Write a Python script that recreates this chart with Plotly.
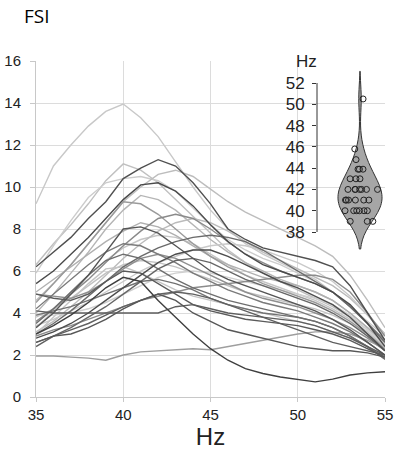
import plotly.graph_objects as go

hz = list(range(35, 56))

# spectra (one list per cell), values read at each integer Hz 35..55
cell_A = [9.2, 11.0, 12.0, 12.9, 13.6, 13.95, 13.3, 12.4, 11.2, 10.0, 8.9, 8.0, 7.3, 6.8, 6.4, 6.0, 5.6, 5.0, 4.3, 3.6, 2.9]
cell_D = [6.3, 7.3, 8.2, 9.2, 10.3, 11.1, 10.8, 10.2, 9.4, 8.6, 7.8, 7.0, 6.4, 5.9, 5.5, 5.1, 4.7, 4.3, 3.8, 3.2, 2.5]
cell_E = [5.9, 7.2, 8.4, 9.5, 10.2, 10.4, 10.5, 10.3, 9.8, 9.0, 8.2, 7.5, 7.0, 6.6, 6.3, 5.9, 5.5, 5.0, 4.3, 3.5, 2.7]
cell_F = [4.6, 5.4, 6.3, 7.3, 8.3, 9.3, 10.0, 10.6, 10.8, 10.5, 9.9, 9.3, 8.8, 8.4, 8.0, 7.6, 7.2, 6.7, 5.8, 4.6, 3.3]
cell_I = [4.0, 4.9, 5.9, 6.9, 8.0, 8.9, 9.6, 9.4, 8.9, 8.2, 7.5, 6.9, 6.4, 6.0, 5.6, 5.3, 5.0, 4.6, 4.0, 3.3, 2.6]
cell_L = [3.3, 4.1, 5.0, 5.8, 6.5, 7.1, 7.5, 7.7, 7.6, 7.3, 6.8, 6.3, 5.8, 5.5, 5.2, 4.9, 4.6, 4.2, 3.7, 3.1, 2.4]
cell_O = [3.1, 3.6, 4.3, 5.0, 5.8, 6.6, 7.3, 7.9, 8.3, 8.5, 8.3, 7.9, 7.4, 6.9, 6.5, 6.1, 5.7, 5.3, 4.7, 3.9, 3.0]
cell_V = [3.8, 4.2, 4.7, 5.3, 5.9, 6.3, 6.5, 6.4, 6.2, 5.9, 5.6, 5.3, 5.0, 4.8, 4.6, 4.4, 4.2, 3.9, 3.5, 3.0, 2.4]
cell_W = [3.4, 3.7, 4.1, 4.5, 5.0, 5.5, 6.0, 6.4, 6.7, 7.0, 7.2, 7.3, 7.2, 7.0, 6.7, 6.4, 6.0, 5.5, 4.8, 3.9, 3.0]
cell_Z = [3.0, 3.8, 4.6, 5.4, 6.1, 6.2, 5.9, 5.5, 5.1, 4.8, 4.6, 4.4, 4.2, 4.0, 3.8, 3.6, 3.4, 3.1, 2.8, 2.4, 1.9]
cell_AB = [5.0, 5.6, 6.2, 6.8, 7.4, 7.9, 8.3, 8.1, 7.7, 7.2, 6.7, 6.3, 6.0, 5.7, 5.5, 5.3, 5.0, 4.6, 4.0, 3.3, 2.5]
cell_AD = [3.9, 3.9, 4.0, 4.2, 4.5, 4.9, 5.3, 5.7, 5.9, 6.0, 5.9, 5.7, 5.5, 5.3, 5.1, 4.9, 4.7, 4.4, 3.9, 3.2, 2.5]
cell_G = [4.5, 5.4, 6.3, 7.3, 8.3, 9.3, 9.2, 8.7, 8.0, 7.3, 6.7, 6.2, 5.8, 5.4, 5.1, 4.8, 4.5, 4.1, 3.6, 3.0, 2.3]
cell_J = [3.6, 4.2, 4.9, 5.6, 6.4, 7.2, 7.9, 8.5, 8.7, 8.5, 8.0, 7.4, 6.8, 6.4, 6.0, 5.7, 5.4, 5.0, 4.3, 3.5, 2.7]
cell_N = [4.9, 4.8, 4.7, 5.0, 5.5, 6.1, 6.6, 6.8, 6.6, 6.2, 5.8, 5.4, 5.0, 4.7, 4.5, 4.3, 4.0, 3.7, 3.3, 2.8, 2.2]
cell_R = [1.95, 1.95, 1.9, 1.85, 1.75, 2.0, 2.15, 2.2, 2.28, 2.3, 2.25, 2.4, 2.55, 2.7, 2.85, 3.0, 3.1, 3.1, 3.0, 2.7, 2.3]
cell_X = [2.9, 3.2, 3.4, 3.7, 4.0, 4.3, 4.6, 4.8, 5.0, 5.2, 5.3, 5.4, 5.5, 5.6, 5.7, 5.8, 5.8, 5.6, 5.0, 4.0, 2.9]
cell_Y = [4.2, 4.9, 5.6, 6.3, 6.9, 7.3, 7.2, 6.8, 6.4, 5.9, 5.5, 5.1, 4.8, 4.5, 4.3, 4.1, 3.8, 3.5, 3.1, 2.6, 2.0]
cell_AE = [3.9, 4.1, 4.3, 4.6, 4.9, 5.2, 5.5, 5.6, 5.4, 5.1, 4.7, 4.4, 4.2, 4.0, 3.9, 3.8, 3.6, 3.3, 2.9, 2.4, 1.8]
cell_AA = [3.5, 4.2, 5.0, 5.8, 6.5, 6.8, 6.6, 6.1, 5.6, 5.2, 4.9, 4.6, 4.4, 4.2, 4.0, 3.8, 3.6, 3.3, 2.9, 2.4, 1.8]
cell_K = [3.0, 3.5, 4.1, 4.8, 5.5, 6.2, 6.7, 7.1, 7.4, 7.6, 7.7, 7.6, 7.4, 7.0, 6.5, 6.0, 5.5, 5.0, 4.3, 3.5, 2.6]
cell_AC = [2.6, 2.9, 3.3, 3.8, 4.3, 4.9, 5.5, 6.1, 6.5, 6.6, 6.4, 6.0, 5.6, 5.3, 5.0, 4.7, 4.4, 4.0, 3.5, 2.9, 2.2]
cell_T = [2.4, 2.9, 3.2, 3.5, 3.9, 4.3, 4.6, 4.9, 5.0, 4.9, 4.7, 4.4, 4.1, 3.8, 3.5, 3.2, 2.9, 2.6, 2.4, 2.2, 2.0]
cell_S = [4.1, 4.0, 4.0, 4.0, 4.0, 4.0, 4.0, 4.0, 4.3, 4.4, 4.2, 4.0, 3.9, 3.8, 3.7, 3.6, 3.4, 3.1, 2.8, 2.4, 2.0]
cell_U = [2.6, 2.9, 3.0, 3.3, 3.7, 4.2, 4.6, 4.9, 4.6, 4.0, 3.6, 3.2, 3.0, 2.8, 2.6, 2.4, 2.3, 2.2, 2.2, 2.1, 1.9]
cell_P = [4.9, 4.7, 4.6, 4.9, 5.5, 6.0, 5.9, 5.4, 4.9, 4.4, 4.1, 3.9, 3.7, 3.6, 3.5, 3.4, 3.2, 3.0, 2.7, 2.3, 1.9]
cell_H = [3.3, 4.0, 4.9, 5.8, 6.9, 8.0, 8.1, 7.8, 7.2, 6.6, 6.0, 5.6, 5.3, 5.0, 4.7, 4.4, 4.1, 3.7, 3.2, 2.6, 2.0]
cell_M = [2.8, 3.1, 3.5, 4.0, 4.6, 5.2, 5.8, 6.4, 6.8, 7.0, 7.0, 6.7, 6.3, 5.9, 5.5, 5.2, 4.8, 4.4, 3.8, 3.0, 2.2]
cell_C = [5.4, 6.0, 6.8, 7.6, 8.5, 9.4, 10.1, 10.2, 9.8, 9.1, 8.2, 7.4, 6.8, 6.3, 6.0, 5.7, 5.4, 5.0, 4.4, 3.5, 2.4]
cell_B = [6.2, 6.9, 7.6, 8.5, 9.3, 10.4, 10.9, 11.3, 11.0, 10.2, 9.2, 8.0, 7.5, 7.1, 6.9, 6.7, 6.5, 6.2, 5.3, 4.0, 2.7]
cell_Q = [3.0, 3.4, 3.9, 4.5, 5.2, 5.7, 5.5, 4.6, 3.8, 3.0, 2.3, 1.75, 1.35, 1.12, 0.95, 0.82, 0.72, 0.85, 1.05, 1.15, 1.2]

cells = [cell_A, cell_D, cell_E, cell_F, cell_I, cell_L, cell_O, cell_V, cell_W, cell_Z,
         cell_AB, cell_AD, cell_G, cell_J, cell_N, cell_R, cell_X, cell_Y, cell_AE, cell_AA,
         cell_K, cell_AC, cell_T, cell_S, cell_U, cell_P, cell_H, cell_M, cell_C, cell_B, cell_Q]
cell_colors = ["#c8c8c8", "#c0c0c0", "#cccccc", "#bdbdbd", "#b5b5b5", "#c6c6c6", "#bbbbbb", "#c2c2c2", "#c9c9c9", "#c4c4c4",
               "#b0b0b0", "#cfcfcf", "#9a9a9a", "#8a8a8a", "#8f8f8f", "#9e9e9e", "#8c8c8c", "#7a7a7a", "#727272", "#6e6e6e",
               "#6a6a6a", "#666666", "#606060", "#5e5e5e", "#575757", "#5a5a5a", "#555555", "#4d4d4d", "#4a4a4a", "#505050", "#3f3f3f"]

# peak frequencies (inset violin)
peak_hz = [50.5, 45.8, 44.8, 43.9, 43.9, 43.9, 43.0, 43.0, 43.0,
           42.0, 42.0, 42.0, 42.0, 42.0, 42.0, 42.0,
           41.0, 41.0, 41.0, 41.0, 41.0, 41.0,
           40.0, 40.0, 40.0, 40.0, 40.0, 40.0,
           39.0, 39.0, 39.0]
inset_ticks = [38, 40, 42, 44, 46, 48, 50, 52]
main_yticks = [0, 2, 4, 6, 8, 10, 12, 14, 16]
main_xticks = [35, 40, 45, 50, 55]

fig = go.Figure()
for vals, col in zip(cells, cell_colors):
    fig.add_trace(go.Scatter(x=hz, y=vals, mode="lines",
                             line=dict(color=col, width=1.4),
                             showlegend=False, hoverinfo="skip",
                             xaxis="x", yaxis="y"))

fig.add_trace(go.Violin(y=peak_hz, x0=0, width=44, xaxis="x2", yaxis="y2",
                        points="all", pointpos=0, jitter=0.9,
                        bandwidth=1.3, spanmode="soft",
                        fillcolor="#a6a6a6", line=dict(color="#333333", width=1),
                        marker=dict(symbol="circle-open", size=6, color="#222222",
                                    line=dict(width=1)),
                        showlegend=False, hoverinfo="skip"))

W, H = 394, 454
ml, mr, mt, mb = 36, 9, 61, 57
pw = W - ml - mr
ph = H - mt - mb

inset_left_px = 317
x2_dom0 = (inset_left_px - ml) / pw
y2_range = [35.5, 54.0]
y38 = (397 - 232) / ph
y52 = (397 - 83) / ph
per = (y52 - y38) / 14.0
y2_dom = [y38 - (38 - y2_range[0]) * per, y52 + (y2_range[1] - 52) * per]

fig.update_layout(
    width=W, height=H,
    margin=dict(l=ml, r=mr, t=mt, b=mb),
    paper_bgcolor="white", plot_bgcolor="rgba(0,0,0,0)",
    font=dict(family="Liberation Sans, Arial, sans-serif", color="#222222"),
    xaxis=dict(domain=[0, 1], range=[35, 55], tickvals=main_xticks, automargin=False,
               showgrid=True, gridcolor="#dcdcdc", gridwidth=1,
               showline=True, linecolor="#c8c8c8", linewidth=1,
               ticks="outside", ticklen=4, tickcolor="#c8c8c8",
               tickfont=dict(size=15, color="#222222"),
               title=dict(text="Hz", font=dict(size=24, color="#222222"), standoff=6),
               zeroline=False),
    yaxis=dict(domain=[0, 1], range=[0, 16], tickvals=main_yticks, automargin=False,
               showgrid=True, gridcolor="#dcdcdc", gridwidth=1,
               showline=True, linecolor="#c8c8c8", linewidth=1,
               ticks="outside", ticklen=5, tickcolor="#c8c8c8",
               ticklabelstandoff=6,
               tickfont=dict(size=15, color="#222222"), zeroline=False),
    xaxis2=dict(domain=[x2_dom0, 1], range=[-43, 25], anchor="y2",
                visible=False, automargin=False),
    yaxis2=dict(domain=y2_dom, range=y2_range, anchor="x2", automargin=False,
                tickvals=inset_ticks, showgrid=False, zeroline=False,
                showline=False, ticks="outside", ticklen=4, tickcolor="#333333",
                ticklabelstandoff=4,
                tickfont=dict(size=17, color="#222222")),
    shapes=[dict(type="line", xref="x2 domain", yref="y2", x0=0, x1=0,
                 y0=inset_ticks[0], y1=inset_ticks[-1],
                 line=dict(color="#333333", width=1))],
    annotations=[
        dict(text="FSI", xref="paper", yref="paper", x=(22 - ml) / pw, y=(397 - 16) / ph,
             xanchor="left", yanchor="middle", showarrow=False,
             font=dict(family="Open Sans, sans-serif", size=19, color="#000000")),
        dict(text="Hz", xref="paper", yref="paper", x=(306 - ml) / pw, y=(397 - 61) / ph,
             xanchor="center", yanchor="middle", showarrow=False,
             font=dict(size=17, color="#222222")),
    ],
)

fig.write_html("out.html")
